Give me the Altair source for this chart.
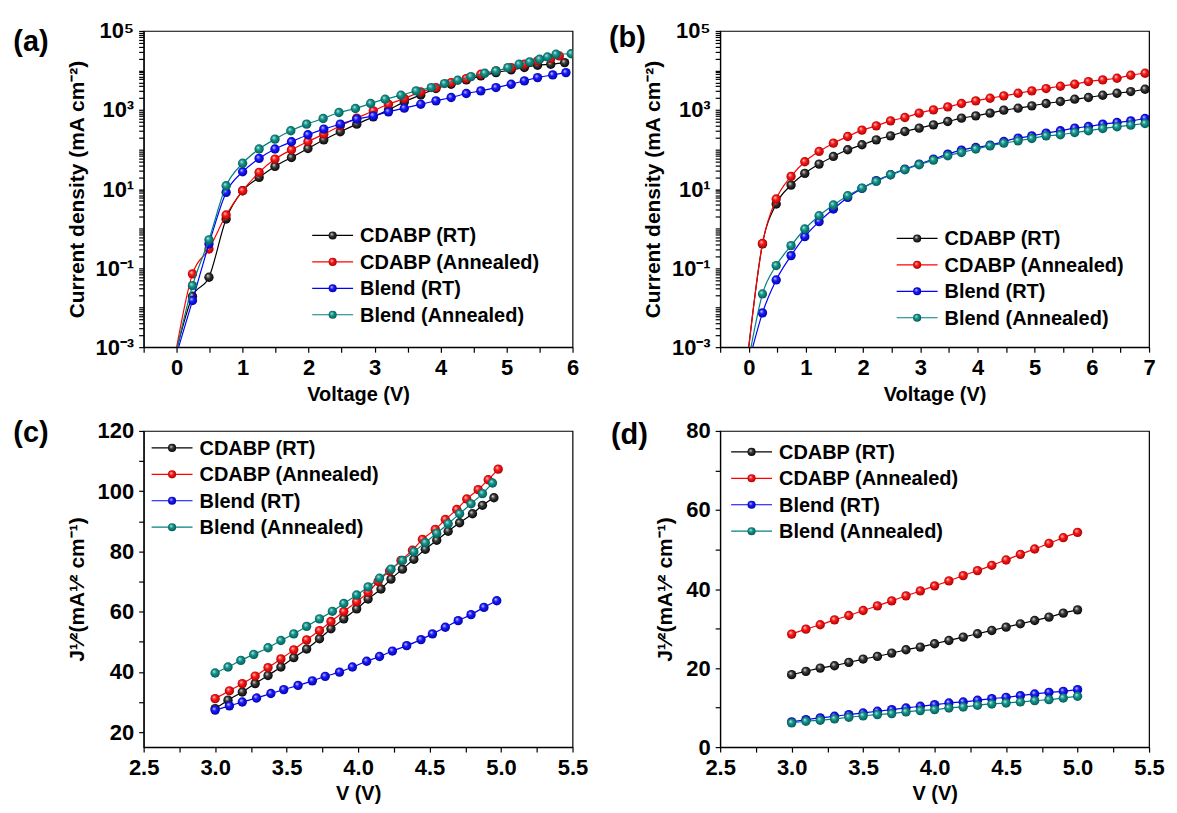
import altair as alt
import pandas as pd

SERIES = ["CDABP (RT)", "CDABP (Annealed)", "Blend (RT)", "Blend (Annealed)"]
LINE_COLORS = ["#000000", "#ff0000", "#0000ff", "#008080"]
BALL_STOPS = [
    ["#e8e8e8", "#3a3a3a", "#000000"],
    ["#ffd6d6", "#ff1a1a", "#a00000"],
    ["#d6d6ff", "#1a1aff", "#0000a0"],
    ["#c8eeea", "#16968e", "#005550"],
]
FONT = "Liberation Sans"

# ---------------- panel (a): J-V, log scale ----------------
a_black_v = [0.24, 0.49, 0.75, 1.0, 1.25, 1.49, 1.74, 1.99, 2.23, 2.48, 2.73, 2.98, 3.21, 3.45,
             3.7, 3.93, 4.16, 4.39, 4.61, 4.84, 5.07, 5.27, 5.47, 5.67, 5.88]
a_black_j = [0.0194, 0.0586, 1.75, 9.08, 19.7, 37.4, 63, 106, 176, 281, 439, 672, 1009, 1607,
             2415, 3490, 4500, 5780, 7300, 8850, 10350, 11860, 13580, 14390, 15850]
a_red_v = [0.24, 0.49, 0.75, 1.0, 1.25, 1.49, 1.74, 1.99, 2.23, 2.48, 2.73, 2.98, 3.21, 3.45,
           3.7, 3.93, 4.16, 4.39, 4.61, 4.84, 5.07, 5.27, 5.47, 5.67, 5.8]
a_red_j = [0.0713, 0.305, 2.2, 9.08, 26.4, 57.3, 98.6, 160, 245, 398, 622, 953, 1403, 1953,
           2877, 3700, 4950, 6250, 8040, 9750, 11860, 14390, 17460, 20000, 23350]
a_blue_v = [0.24, 0.49, 0.75, 1.0, 1.25, 1.49, 1.74, 1.99, 2.23, 2.48, 2.73, 2.98, 3.21, 3.45,
            3.7, 3.93, 4.16, 4.39, 4.61, 4.84, 5.07, 5.27, 5.47, 5.7, 5.9]
a_blue_j = [0.0151, 0.408, 8.24, 27.4, 59.6, 103, 157, 236, 328, 439, 587, 712, 899, 1112,
            1403, 1706, 2070, 2612, 3050, 3700, 4500, 5460, 6620, 7730, 8850]
a_teal_v = [0.24, 0.49, 0.75, 1.0, 1.25, 1.49, 1.73, 1.97, 2.22, 2.46, 2.71, 2.94, 3.16, 3.4,
            3.63, 3.86, 4.06, 4.26, 4.46, 4.67, 4.84, 5.02, 5.19, 5.35, 5.5, 5.62, 5.75, 5.98]
a_teal_j = [0.036, 0.52, 12.1, 45, 103, 183, 298, 439, 610, 865, 1092, 1459, 1879, 2371,
            3050, 3700, 4670, 5670, 7020, 8530, 9750, 11850, 14390, 16480, 19230, 22030, 25800, 26500]
a_start_v = [0.01, 0.0, 0.03, 0.01]   # where each curve leaves the bottom axis
a_floor = 0.001

# ---------------- panel (b): J-V, log scale ----------------
b_v = [0.24, 0.48, 0.74, 0.98, 1.23, 1.48, 1.73, 1.98, 2.23, 2.48, 2.73, 2.98, 3.23, 3.48,
       3.72, 3.97, 4.22, 4.46, 4.71, 4.95, 5.2, 5.45, 5.7, 5.94, 6.19, 6.44, 6.68, 6.93]
b_black_j = [0.41, 4.18, 12.6, 24.9, 42.8, 66.9, 98.6, 132, 176, 222, 286, 348, 422, 512,
             622, 712, 832, 991, 1112, 1274, 1459, 1641, 1879, 2070, 2371, 2661, 2931, 3357]
b_red_j = [0.42, 5.6, 20.9, 49, 89.5, 145, 214, 310, 398, 532, 647, 832, 1009, 1202,
           1459, 1706, 1990, 2280, 2661, 3050, 3490, 4000, 4500, 5250, 5780, 6370, 7590, 8530]
b_blue_j = [0.00736, 0.0502, 0.207, 0.625, 1.5, 3.13, 6.15, 10.4, 16.3, 23, 32, 42.8, 57.3, 76.6,
            96.6, 113, 129, 160, 194, 222, 260, 298, 348, 383, 439, 483, 532, 610]
b_teal_j = [0.0222, 0.116, 0.37, 0.975, 2.12, 3.94, 6.79, 10.6, 15.6, 23, 30.8, 41.2, 54, 69.5,
            84.4, 103, 124, 145, 166, 190, 222, 236, 270, 298, 341, 376, 414, 456]
b_start_v = [0.0, 0.0, 0.07, 0.04]
b_floor = 0.001

# ---------------- panel (c): sqrt(J)-V ----------------
c_black_v = [3.0, 3.09, 3.19, 3.28, 3.37, 3.46, 3.55, 3.64, 3.73, 3.81, 3.9, 3.99, 4.07, 4.16,
             4.23, 4.31, 4.39, 4.47, 4.55, 4.63, 4.71, 4.8, 4.87, 4.95]
c_black = [27.8, 30.6, 33.3, 36.1, 38.8, 41.6, 44.7, 47.6, 51.0, 54.3, 57.6, 60.9, 64.2, 67.5,
           70.8, 74.1, 77.4, 80.7, 83.7, 86.7, 89.5, 92.5, 95.3, 97.8]
c_red_v = [3.0, 3.1, 3.19, 3.28, 3.37, 3.46, 3.55, 3.64, 3.73, 3.81, 3.9, 3.99, 4.07, 4.14,
           4.22, 4.3, 4.38, 4.45, 4.54, 4.61, 4.69, 4.76, 4.84, 4.91, 4.98]
c_red = [31.1, 33.7, 36.1, 38.6, 41.4, 44.3, 47.3, 50.6, 53.7, 56.7, 60.0, 63.3, 66.4, 70.0,
         73.5, 77.0, 80.4, 84.0, 87.3, 90.6, 93.9, 97.4, 100.5, 103.8, 107.3]
c_blue_v = [3.0, 3.1, 3.19, 3.29, 3.39, 3.48, 3.58, 3.68, 3.77, 3.87, 3.96, 4.06, 4.15, 4.24,
            4.34, 4.44, 4.52, 4.61, 4.7, 4.79, 4.88, 4.97]
c_blue = [27.3, 28.7, 30.0, 31.3, 32.8, 34.1, 35.5, 37.0, 38.5, 39.9, 41.6, 43.5, 45.1, 46.9,
          48.7, 50.7, 52.6, 54.8, 57.0, 59.0, 61.4, 63.6]
c_teal_v = [3.0, 3.09, 3.18, 3.27, 3.37, 3.46, 3.55, 3.64, 3.73, 3.82, 3.9, 3.99, 4.07, 4.15,
            4.23, 4.31, 4.39, 4.47, 4.55, 4.63, 4.71, 4.79, 4.87, 4.94]
c_teal = [39.6, 41.6, 43.8, 45.8, 48.0, 50.4, 52.6, 55.1, 57.6, 60.1, 62.7, 65.5, 68.2, 71.1,
          74.1, 77.0, 79.9, 82.9, 86.0, 89.2, 92.5, 95.8, 99.2, 102.7]

# ---------------- panel (d): sqrt(J)-V ----------------
d_v = [3.0, 3.1, 3.2, 3.3, 3.4, 3.5, 3.6, 3.7, 3.8, 3.9, 4.0, 4.1, 4.2, 4.3, 4.4, 4.5, 4.6,
       4.7, 4.8, 4.9, 5.0]
d_black = [18.33, 19.17, 20.0, 20.6, 21.44, 22.28, 22.95, 23.79, 24.63, 25.31, 26.15, 26.99,
           27.83, 28.68, 29.52, 30.36, 31.2, 32.04, 32.88, 33.89, 34.73]
d_red = [28.6, 29.85, 30.95, 32.2, 33.3, 34.56, 35.74, 37.0, 38.27, 39.53, 40.79, 42.05, 43.4,
         44.66, 46.0, 47.35, 48.78, 50.13, 51.56, 52.99, 54.34]
d_blue = [6.38, 6.97, 7.39, 7.81, 8.23, 8.65, 9.07, 9.49, 9.91, 10.33, 10.75, 11.17, 11.43,
          11.85, 12.27, 12.6, 13.02, 13.45, 13.87, 14.12, 14.54]
d_teal = [6.13, 6.55, 6.8, 7.14, 7.56, 7.9, 8.23, 8.48, 8.9, 9.24, 9.49, 9.91, 10.16, 10.58,
          10.92, 11.17, 11.43, 11.76, 12.01, 12.44, 12.86]


def build_df(vs, ys, starts=None, floor=None):
    rows = []
    for i, s in enumerate(SERIES):
        if starts is not None:
            rows.append({"V": starts[i], "Y": floor, "series": s, "marker": False})
        for v, y in zip(vs[i], ys[i]):
            rows.append({"V": v, "Y": y, "series": s, "marker": True})
    return pd.DataFrame(rows)


df_a = build_df([a_black_v, a_red_v, a_blue_v, a_teal_v],
                [a_black_j, a_red_j, a_blue_j, a_teal_j], a_start_v, a_floor)
df_b = build_df([b_v] * 4, [b_black_j, b_red_j, b_blue_j, b_teal_j], b_start_v, b_floor)
df_c = build_df([c_black_v, c_red_v, c_blue_v, c_teal_v], [c_black, c_red, c_blue, c_teal])
df_d = build_df([d_v] * 4, [d_black, d_red, d_blue, d_teal])


def ball(i):
    st = BALL_STOPS[i]
    return alt.RadialGradient(
        gradient="radial", x1=0.36, y1=0.32, r1=0.0, x2=0.5, y2=0.5, r2=0.55,
        stops=[alt.GradientStop(offset=0.0, color=st[0]),
               alt.GradientStop(offset=0.4, color=st[1]),
               alt.GradientStop(offset=1.0, color=st[2])])


LOG_TICKS = [m * 10 ** e for e in range(-3, 5) for m in range(1, 10)] + [100000]
LOG_LABELS = ("datum.value == 100000 ? '10\u2075' : datum.value == 1000 ? '10\u00b3' : "
              "datum.value == 10 ? '10\u00b9' : datum.value == 0.1 ? '10\u207b\u00b9' : "
              "datum.value == 0.001 ? '10\u207b\u00b3' : ''")

AX = dict(tickSize=5, labelPadding=5, labelOverlap=False, labelFlush=False, grid=False)


def panel(df, xenc, yenc, legend_xy, tag, tag_xy, w=430, h=317):
    base = alt.Chart(df)
    layers = []
    for i, s in enumerate(SERIES):
        sub = base.transform_filter(alt.datum.series == s)
        layers.append(sub.mark_line(color=LINE_COLORS[i], strokeWidth=1.2,
                                    interpolate="monotone", clip=True)
                      .encode(x=xenc, y=yenc))
        layers.append(sub.transform_filter(alt.datum.marker)
                      .mark_point(shape="circle", filled=True, fill=ball(i), opacity=1,
                                  size=88, strokeWidth=0, clip=True)
                      .encode(x=xenc, y=yenc))
    one = pd.DataFrame({"k": [0]})
    lx, ly = legend_xy
    for i, s in enumerate(SERIES):
        yy = ly + i * 26.5
        lb = alt.Chart(one)
        layers.append(lb.mark_rule(color=LINE_COLORS[i], strokeWidth=1.2)
                      .encode(x=alt.value(lx), x2=alt.value(lx + 41), y=alt.value(yy)))
        layers.append(lb.mark_point(shape="circle", filled=True, fill=ball(i), opacity=1,
                                    size=66, strokeWidth=0)
                      .encode(x=alt.value(lx + 20.5), y=alt.value(yy)))
        layers.append(lb.mark_text(align="left", baseline="middle", font=FONT, fontSize=20,
                                   fontWeight="bold", color="black")
                      .encode(x=alt.value(lx + 48), y=alt.value(yy + 1), text=alt.value(s)))
    layers.append(alt.Chart(one).mark_text(align="center", baseline="middle", font=FONT,
                                           fontSize=29, fontWeight="bold", color="black")
                  .encode(x=alt.value(tag_xy[0]), y=alt.value(tag_xy[1]), text=alt.value(tag)))
    return alt.layer(*layers).properties(width=w, height=h)


def jv_x(maxv):
    vals = [k * 0.5 for k in range(-1, 2 * maxv + 1)]
    return alt.X("V:Q", scale=alt.Scale(domain=[-0.5, maxv], nice=False, zero=False),
                 axis=alt.Axis(title="Voltage (V)", values=vals, titlePadding=6,
                               labelExpr="datum.value % 1 === 0 ? format(datum.value, 'd') : ''",
                               **AX))


jv_y = alt.Y("Y:Q", scale=alt.Scale(type="log", domain=[0.001, 100000], nice=False),
             axis=alt.Axis(title="Current density (mA cm\u207b\u00b2)", values=LOG_TICKS,
                           labelExpr=LOG_LABELS, titlePadding=8, titleFontSize=21, **AX))

sq_x = alt.X("V:Q", scale=alt.Scale(domain=[2.5, 5.5], nice=False, zero=False),
             axis=alt.Axis(title="V (V)", values=[2.5 + 0.25 * k for k in range(13)],
                           titlePadding=6,
                           labelExpr="(datum.value * 2) % 1 === 0 ? format(datum.value, '.1f') : ''",
                           **AX))
SQ_TITLE = "J\u00b9\u2044\u00b2(mA\u00b9\u2044\u00b2 cm\u207b\u00b9)"
sq_y_c = alt.Y("Y:Q", scale=alt.Scale(domain=[15, 120], nice=False, zero=False),
               axis=alt.Axis(title=SQ_TITLE, values=list(range(20, 121, 10)), titlePadding=10,
                             titleFontSize=21,
                             labelExpr="datum.value % 20 === 0 ? format(datum.value, 'd') : ''",
                             **AX))
sq_y_d = alt.Y("Y:Q", scale=alt.Scale(domain=[0, 80], nice=False, zero=False),
               axis=alt.Axis(title=SQ_TITLE, values=list(range(0, 81, 10)), titlePadding=10,
                             titleFontSize=21,
                             labelExpr="datum.value % 20 === 0 ? format(datum.value, 'd') : ''",
                             **AX))

pa = panel(df_a, jv_x(6), jv_y, (169, 205), "(a)", (-113, 11))
pb = panel(df_b, jv_x(7), jv_y, (177, 208), "(b)", (-93, 7))
pc = panel(df_c, sq_x, sq_y_c, (8, 17), "(c)", (-113, 2))
pd_ = panel(df_d, sq_x, sq_y_d, (11, 21), "(d)", (-91, 4))

chart = (alt.concat(pa, pb, pc, pd_, columns=2, spacing={"row": 84, "column": 148},
                    bounds="flush")
         .properties(padding={"left": 4, "top": 10, "right": 4, "bottom": 0}, background="white")
         .configure_view(stroke="black", strokeWidth=1.2)
         .configure_axis(labelFont=FONT, labelFontSize=22, labelFontWeight="bold",
                         labelColor="black", titleFont=FONT, titleFontSize=20,
                         titleFontWeight="bold", titleColor="black", domainColor="black",
                         domainWidth=1.2, tickColor="black", tickWidth=1.2))

chart.save("out.html", embed_options={"renderer": "svg", "actions": False})
